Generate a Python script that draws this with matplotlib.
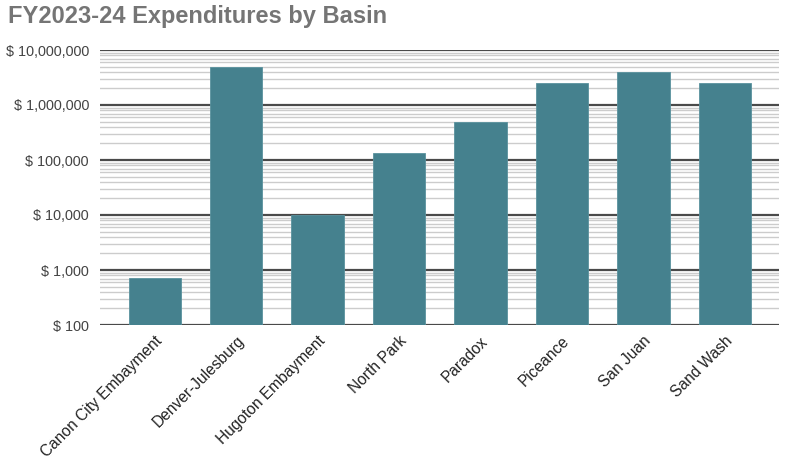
import matplotlib
matplotlib.use("Agg")
import matplotlib.pyplot as plt
from matplotlib.ticker import FixedLocator, FuncFormatter, LogLocator, NullFormatter

# Daten
basins = ["Canon City Embayment", "Denver-Julesburg", "Hugoton Embayment",
          "North Park", "Paradox", "Piceance", "San Juan", "Sand Wash"]
expenditures = [720, 4_840_000, 10_000, 136_000, 484_000, 2_480_000, 3_980_000, 2_480_000]
y_ticks = [100, 1_000, 10_000, 100_000, 1_000_000, 10_000_000]

plt.rcParams['font.family'] = ['Liberation Sans', 'DejaVu Sans']

fig = plt.figure(figsize=(7.92, 4.71), dpi=100)
ax = fig.add_axes([100 / 792, 1 - 325 / 471, 679 / 792, 275 / 471])

x = range(len(basins))
ax.bar(x, expenditures, width=0.644, color="#45818e", zorder=3,
       edgecolor="#5a929e", linewidth=0.6)

ax.set_yscale("log")
ax.set_ylim(100, 10_000_000)
ax.set_xlim(-0.673, 7.666)

# Gitterlinien: Hauptlinien dunkel, Nebenlinien hell
ax.yaxis.set_major_locator(FixedLocator(y_ticks))
ax.yaxis.set_minor_locator(LogLocator(base=10, subs=range(2, 10), numticks=20))
ax.yaxis.set_minor_formatter(NullFormatter())
ax.yaxis.set_major_formatter(FuncFormatter(lambda v, p: "$ {:,.0f}".format(v)))
ax.grid(which="major", axis="y", color="#4a4a4a", linewidth=1.6, zorder=1)
ax.grid(which="minor", axis="y", color="#cccccc", linewidth=1.0, zorder=0)
ax.tick_params(axis="y", which="both", length=0, labelsize=10.4, labelcolor="#444444", pad=8)
ax.tick_params(axis="x", length=0, labelsize=11.2, labelcolor="#222222", pad=6)

ax.set_xticks(list(x))
ax.set_xticklabels(basins, rotation=45, ha="right", rotation_mode="anchor")

for s in ax.spines.values():
    s.set_visible(False)

fig.text(8 / 792, 1 - 17 / 471, "FY2023-24 Expenditures by Basin", fontsize=17,
         fontweight="bold", color="#757575", va="center", ha="left")

fig.savefig("out.png", dpi=100)
